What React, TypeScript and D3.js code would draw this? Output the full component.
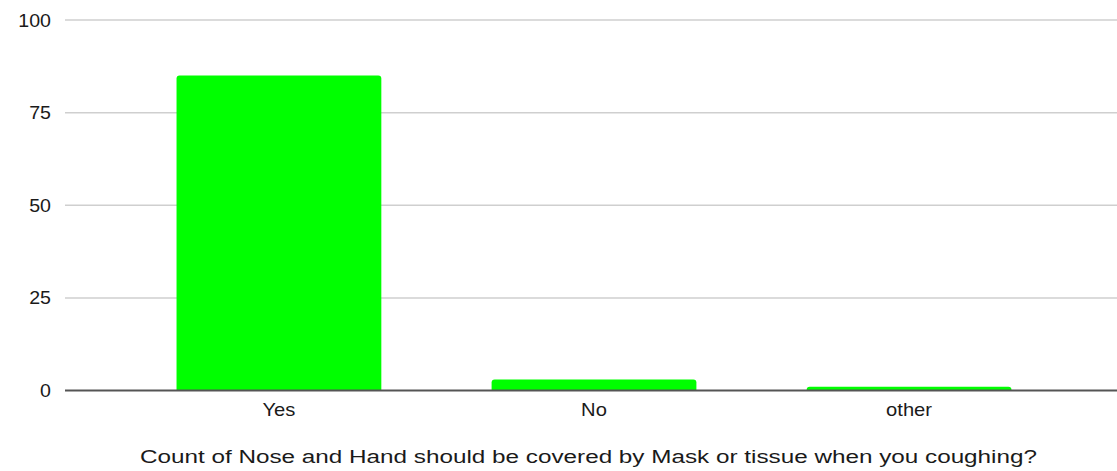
import React from "react";
import * as d3 from "d3";

const categories: string[] = ["Yes", "No", "other"];
const counts: number[] = [85, 3, 1];
const yTicks: number[] = [0, 25, 50, 75, 100];
const xTitle = "Count of Nose and Hand should be covered by Mask or tissue when you coughing?";

const W = 1117;
const H = 471;
const FONT = "'Liberation Sans', Arial, sans-serif";
const STRETCH = 1.12;

function topRoundedBar(x: number, y: number, w: number, h: number, r: number): string {
  const rr = Math.min(r, h, w / 2);
  const p = d3.path();
  p.moveTo(x, y + h);
  p.lineTo(x, y + rr);
  p.quadraticCurveTo(x, y, x + rr, y);
  p.lineTo(x + w - rr, y);
  p.quadraticCurveTo(x + w, y, x + w, y + rr);
  p.lineTo(x + w, y + h);
  p.closePath();
  return p.toString();
}

export default function App() {
  const plotLeft = 65;
  const y = d3.scaleLinear().domain([0, 100]).range([390.5, 20]);
  const x = d3
    .scaleBand<string>()
    .domain(categories)
    .range([plotLeft, 1123])
    .paddingInner(0.35)
    .paddingOuter(0.354);

  return (
    <div style={{ position: "fixed", left: 0, top: 0 }}>
      <svg width={W} height={H} style={{ display: "block", background: "#fff" }} fontFamily={FONT}>
        {/* horizontal gridlines and y tick labels */}
        {yTicks.map((t) => (
          <g key={t}>
            {t !== 0 && (
              <line x1={plotLeft} x2={W} y1={y(t)} y2={y(t)} stroke="#cfcfcf" strokeWidth={1.5} />
            )}
            <g transform={`translate(51,${y(t) + 6.5}) scale(${STRETCH},1)`}>
              <text x={0} y={0} textAnchor="end" fontSize={17.5} fill="#1a1a1a">
                {t}
              </text>
            </g>
          </g>
        ))}

        {/* bars */}
        {categories.map((c, i) => {
          const bx = x(c) as number;
          const by = y(counts[i]);
          return (
            <path
              key={c}
              d={topRoundedBar(bx, by, x.bandwidth(), y(0) - by, 3)}
              fill="#00ff00"
            />
          );
        })}

        {/* baseline */}
        <line x1={plotLeft} x2={W} y1={y(0)} y2={y(0)} stroke="#555" strokeWidth={2} />

        {/* category labels */}
        {categories.map((c) => (
          <g
            key={c}
            transform={`translate(${(x(c) as number) + x.bandwidth() / 2},416) scale(${STRETCH},1)`}
          >
            <text x={0} y={0} textAnchor="middle" fontSize={18} fill="#1a1a1a">
              {c}
            </text>
          </g>
        ))}

        {/* axis title */}
        <text
          x={140}
          y={463}
          fontSize={17.5}
          fill="#1a1a1a"
          textLength={897}
          lengthAdjust="spacingAndGlyphs"
        >
          {xTitle}
        </text>
      </svg>
    </div>
  );
}
